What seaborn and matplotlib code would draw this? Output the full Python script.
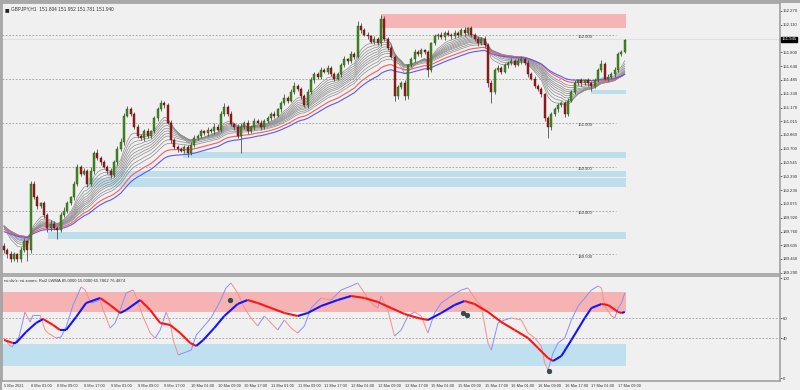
import numpy as np
import pandas as pd
import matplotlib
matplotlib.use('Agg')
import matplotlib.pyplot as plt
import seaborn as sns
from matplotlib.collections import LineCollection
from matplotlib.patches import Rectangle

sns.set_style('white')
plt.rcParams['font.family'] = ['Liberation Sans Narrow', 'Liberation Sans', 'DejaVu Sans']

# ---- price data (H1 closes) ----
first_open = 149.60
closes = [
    149.55, 149.50, 149.45, 149.50, 149.45, 149.55, 149.65, 149.55, 150.30, 150.15,
    150.05, 150.08, 149.95, 149.80, 149.85, 149.80, 149.78, 149.95, 150.00, 150.08,
    150.15, 150.30, 150.50, 150.42, 150.45, 150.30, 150.45, 150.65, 150.60, 150.55,
    150.50, 150.45, 150.40, 150.55, 150.70, 150.78, 151.08, 151.15, 151.10, 150.95,
    150.85, 150.82, 150.90, 150.85, 150.90, 151.05, 151.15, 151.22, 151.20, 151.00,
    150.80, 150.72, 150.70, 150.68, 150.72, 150.65, 150.75, 150.82, 150.85, 150.90,
    150.88, 150.92, 150.90, 150.95, 150.92, 151.10, 151.18, 151.10, 150.98, 150.95,
    150.85, 150.95, 151.00, 150.90, 150.95, 151.02, 151.00, 150.95, 151.02, 151.05,
    151.10, 151.08, 151.15, 151.22, 151.28, 151.25, 151.35, 151.42, 151.38, 151.30,
    151.20, 151.35, 151.48, 151.55, 151.52, 151.60, 151.58, 151.62, 151.55, 151.50,
    151.55, 151.65, 151.72, 151.70, 151.78, 151.75, 152.10, 152.05, 152.00, 151.98,
    151.92, 151.95, 151.90, 152.18, 151.95, 151.85, 151.75, 151.30, 151.40, 151.45,
    151.30, 151.65, 151.72, 151.80, 151.78, 151.82, 151.80, 151.60, 151.90, 151.98,
    152.00, 151.97, 152.02, 152.00, 151.98, 152.02, 152.00, 152.05, 152.02, 152.07,
    152.00, 151.95, 151.90, 151.95, 151.88, 151.45, 151.35, 151.60, 151.62, 151.58,
    151.65, 151.68, 151.70, 151.66, 151.70, 151.72, 151.68, 151.55, 151.50, 151.42,
    151.38, 151.32, 151.05, 150.95, 151.10, 151.15, 151.20, 151.22, 151.10, 151.25,
    151.35, 151.45, 151.48, 151.45, 151.48, 151.45, 151.42, 151.48, 151.60, 151.67,
    151.50, 151.52, 151.55, 151.60, 151.78, 151.80, 151.94,
]
# wick lengths in pips above / below the body
wick_up = [
    3, 2, 4, 3, 2, 3, 4, 2, 3, 4, 3, 2, 3, 2, 4, 3, 2, 3, 4, 3,
    2, 4, 3, 2, 3, 2, 4, 3, 5, 2, 3, 2, 3, 2, 3, 4, 3, 4, 3, 2,
    3, 2, 3, 4, 2, 3, 3, 4, 3, 2, 3, 2, 3, 2, 3, 2, 3, 4, 2, 3,
    2, 3, 2, 4, 3, 3, 4, 2, 3, 2, 3, 4, 2, 3, 2, 3, 2, 3, 2, 3,
    2, 3, 2, 3, 4, 2, 3, 4, 2, 3, 2, 3, 4, 3, 2, 3, 2, 3, 2, 3,
    2, 3, 4, 2, 3, 2, 5, 3, 2, 3, 2, 3, 2, 4, 3, 2, 3, 2, 3, 2,
    3, 2, 3, 4, 2, 3, 2, 3, 2, 3, 2, 3, 2, 3, 2, 3, 2, 3, 4, 2,
    3, 2, 3, 2, 3, 2, 3, 2, 3, 2, 3, 2, 3, 2, 3, 4, 2, 3, 2, 3,
    2, 3, 2, 3, 2, 3, 2, 3, 2, 3, 2, 3, 2, 3, 2, 3, 2, 3, 2, 4,
    2, 3, 2, 3, 2, 2, 1,
]
wick_dn = [
    3, 4, 3, 2, 4, 3, 2, 12, 3, 2, 3, 2, 4, 5, 3, 2, 10, 3, 2, 3,
    2, 3, 2, 3, 2, 3, 2, 3, 2, 3, 2, 3, 3, 2, 3, 2, 3, 2, 3, 2,
    3, 2, 3, 2, 3, 2, 3, 2, 3, 2, 3, 2, 3, 2, 3, 4, 2, 3, 2, 3,
    2, 3, 2, 3, 2, 3, 2, 3, 2, 3, 3, 20, 2, 3, 2, 3, 2, 3, 2, 3,
    2, 3, 2, 3, 2, 3, 2, 3, 2, 3, 2, 3, 2, 3, 2, 3, 2, 3, 2, 3,
    2, 3, 2, 3, 2, 3, 2, 3, 2, 3, 2, 3, 2, 3, 2, 3, 2, 5, 3, 2,
    4, 3, 2, 3, 2, 3, 2, 8, 3, 2, 3, 2, 3, 2, 3, 2, 3, 2, 3, 2,
    3, 2, 3, 2, 3, 4, 13, 3, 2, 3, 2, 3, 2, 3, 2, 3, 2, 3, 2, 3,
    2, 3, 3, 12, 3, 2, 3, 2, 4, 3, 2, 3, 2, 3, 2, 3, 6, 3, 2, 3,
    2, 3, 2, 3, 2, 2, 1,
]

# moving averages: period and value at first bar
gray_periods = [8, 10, 12, 14, 16, 18, 20, 22, 25, 28]
gray_seeds = [149.88, 149.88, 149.87, 149.87, 149.86, 149.86, 149.85, 149.85, 149.84, 149.83]
red_period, red_seed = 34, 149.80
blue_period, blue_seed = 40, 149.77

# horizontal zones (bar start, price low, price high)
price_red_zone = (113.1, 152.077, 152.236)
price_blue_zones = [(53.7, 150.598, 150.666), (31.2, 150.38, 150.45),
                    (24.6, 150.27, 150.37), (13.2, 149.676, 149.756),
                    (175.8, 151.33, 151.37)]
round_levels = [152.0, 151.5, 151.0, 150.5, 150.0, 149.5]
level_labels = ['152.000', '', '151.000', '150.500', '150.000', '149.500']

# oscillator lines (bar, value)
thick_x = [0, 2.7, 3.6, 6.6, 9.6, 11.7, 14.7, 16.8, 18.6, 21.6, 24.6, 28.8, 31.8, 34.8,
           36.6, 40.8, 43.8, 46.8, 49.8, 52.8, 55.8, 57.6, 59.7, 63, 66, 70, 73, 76,
           80, 84, 88, 91, 95, 100, 104, 108, 112, 116, 120, 124, 127, 131, 135, 138,
           141, 145, 149, 153, 157, 160, 163, 164.5, 167, 170, 174, 176, 179, 181,
           184, 185, 186]
thick_y = [38, 35, 35, 46, 55, 59, 53, 48, 48, 61, 75, 80, 73, 65,
           68, 78, 68, 55, 53, 45, 35, 32, 38, 50, 62, 74, 78, 75,
           70, 65, 62, 65, 72, 78, 82, 80, 76, 70, 64, 60, 58, 65, 73, 77,
           74, 66, 56, 48, 40, 30, 20, 17, 22, 38, 60, 70, 74, 73,
           66, 65, 66]
thin_x = [0, 1.5, 2.4, 4.5, 6.3, 7.8, 8.7, 10.8, 12.3, 13.2, 15.6, 17.1, 18.6, 20.7,
          23.1, 24.3, 26.1, 28.8, 29.7, 31.8, 33.3, 34.8, 36.6, 38.7, 39.6, 41.7,
          43.8, 45.3, 46.8, 48.6, 49.8, 50.7, 52.2, 54.6, 56.1, 57.6, 59.7, 62,
          64.5, 66.5, 68, 70, 72, 74, 76, 78, 80, 82, 84, 86, 88, 90, 92, 95, 98,
          101, 104, 106, 108, 110, 112, 113, 115, 117, 119, 121, 123, 125, 127,
          129, 131, 134, 137, 139, 141, 143, 145, 146, 148, 150, 152, 155, 157,
          159, 161, 162, 163, 164.5, 166, 168, 170, 172, 174, 176, 178, 179, 180,
          182, 183, 184, 185, 186]
thin_y = [40, 33, 31, 41, 66, 56, 63, 63, 48, 45, 40, 41, 51, 73,
          91, 88, 75, 78, 68, 50, 55, 68, 85, 88, 81, 61,
          45, 40, 48, 66, 55, 38, 23, 26, 28, 43, 51, 60,
          75, 90, 95, 85, 70, 60, 52, 62, 55, 48, 58, 50, 45, 52, 70, 80, 78,
          88, 92, 95, 85, 75, 70, 82, 68, 42, 48, 62, 66, 62, 45,
          65, 75, 82, 88, 90, 80, 72, 35, 28, 55, 58, 60, 58, 45,
          40, 32, 15, 8, 25, 35, 40, 58, 72, 80, 88, 92, 90, 72,
          62, 60, 70, 75, 85]
div_x = [67.8, 137.4, 138.6, 163.2]
div_y = [78, 65, 63, 7]

time_labels = ['5 Mar 2021', '8 Mar 01:00', '8 Mar 09:00', '8 Mar 17:00', '9 Mar 01:00',
               '9 Mar 09:00', '9 Mar 17:00', '10 Mar 01:00', '10 Mar 09:00', '10 Mar 17:00',
               '11 Mar 01:00', '11 Mar 09:00', '11 Mar 17:00', '12 Mar 01:00', '12 Mar 09:00',
               '12 Mar 17:00', '15 Mar 01:00', '15 Mar 09:00', '15 Mar 17:00', '16 Mar 01:00',
               '16 Mar 09:00', '16 Mar 17:00', '17 Mar 01:00', '17 Mar 09:00']
price_ticks = [152.270, 152.110, 151.800, 151.640, 151.485, 151.330, 151.170, 151.015,
               150.860, 150.700, 150.545, 150.390, 150.230, 150.075, 149.920, 149.760,
               149.605, 149.450, 149.290]
last_price = 151.945

# ---- build frame ----
n = len(closes)
df = pd.DataFrame({'bar': np.arange(n), 'close': closes})
df['open'] = [first_open] + closes[:-1]
df['high'] = df[['open', 'close']].max(axis=1) + np.array(wick_up) / 100
df['low'] = df[['open', 'close']].min(axis=1) - np.array(wick_dn) / 100


def ema(values, period, seed):
    a = 2.0 / (period + 1)
    out, e = [], seed
    for v in values:
        e = e + a * (v - e)
        out.append(e)
    return out


BG = '#f0f0f0'
TXT = '#333333'
FS = 3.1
FS_TIME = 2.8
fig = plt.figure(figsize=(8, 3.9), dpi=100, facecolor=BG)
W, H = 800, 390
# window frame (top and left edges)
fig.patches.append(Rectangle((0, 1 - 3 / H), 1, 3 / H, transform=fig.transFigure,
                             color='#a8a8a8', lw=0, zorder=0))
fig.patches.append(Rectangle((0, 0), 2 / W, 1, transform=fig.transFigure,
                             color='#a8a8a8', lw=0, zorder=0))
ax = fig.add_axes([2 / W, 1 - 274 / H, 778 / W, 271 / H], facecolor=BG)
ax2 = fig.add_axes([2 / W, 1 - 381 / H, 778 / W, 105 / H], facecolor=BG)
xmin, xmax = -0.6, 232.5
zone_end = 186.5
spine_c = '#a0a0a0'

# zones
r0, rl, rh = price_red_zone
ax.add_patch(Rectangle((r0, rl), zone_end - r0, rh - rl, color='#f5b5b5', lw=0, zorder=0))
for b0, lo, hi in price_blue_zones:
    ax.add_patch(Rectangle((b0, lo), zone_end - b0, hi - lo, color='#bddfec', lw=0, zorder=0))

# round levels
for lv, lab in zip(round_levels, level_labels):
    ax.hlines(lv, xmin, 183.5, colors='#9a9a9a', linestyles=(0, (2, 2)), lw=0.6, zorder=1)
    if lab:
        ax.text(174, lv - 0.025, lab, fontsize=FS, color=TXT, ha='center', va='center', zorder=1)
ax.axhline(last_price, color='#dcdcdc', lw=0.6, zorder=1)

# moving averages
for p, s in zip(gray_periods, gray_seeds):
    sns.lineplot(x=df['bar'], y=ema(closes, p, s), ax=ax, color='#8c8c8c', lw=0.5, zorder=2)
sns.lineplot(x=df['bar'], y=ema(closes, red_period, red_seed), ax=ax, color='#ff5a5a', lw=0.8, zorder=3)
sns.lineplot(x=df['bar'], y=ema(closes, blue_period, blue_seed), ax=ax, color='#5a5aff', lw=0.8, zorder=3)

# candles
up = df['close'] >= df['open']
ax.vlines(df['bar'], df['low'], df['high'], color='#505050', lw=0.6, zorder=4)
ax.bar(df['bar'][up], (df['close'] - df['open'])[up], bottom=df['open'][up], width=0.6,
       color='#3f8a1e', edgecolor='#2a5a14', lw=0.3, zorder=5)
ax.bar(df['bar'][~up], (df['open'] - df['close'])[~up], bottom=df['close'][~up], width=0.6,
       color='#a01818', edgecolor='#601010', lw=0.3, zorder=5)

ax.set_xlim(xmin, xmax)
ax.set_ylim(149.278, 152.36)
ax.yaxis.tick_right()
ax.set_yticks(price_ticks)
ax.set_yticklabels([f'{t:.3f}' for t in price_ticks])
ax.tick_params(axis='y', labelsize=FS, length=1.5, width=0.5, pad=0.5, colors=TXT)
ax.set_xticks([])
ax.set_xlabel('')
ax.set_ylabel('')
for s in ax.spines.values():
    s.set_color(spine_c)
    s.set_linewidth(1.2)
ax.text(1.002, last_price, f'{last_price:.3f}', transform=ax.get_yaxis_transform(),
        fontsize=FS, color='white', va='center', ha='left',
        bbox=dict(boxstyle='square,pad=0.15', fc='black', ec='black'))
ax.text(0.003, 0.985, '\u25a0', transform=ax.transAxes, fontsize=3.5, va='top', ha='left',
        color='#222222', family='DejaVu Sans')
ax.text(0.011, 0.988, 'GBPJPY,H1  151.804 151.952 151.781 151.940', transform=ax.transAxes,
        fontsize=FS + 0.3, va='top', ha='left', color=TXT)

# ---- oscillator ----
ax2.add_patch(Rectangle((xmin, 66), zone_end - xmin, 20, color='#f5b3b3', lw=0, zorder=0))
ax2.add_patch(Rectangle((xmin, 12), zone_end - xmin, 22, color='#bfe0ee', lw=0, zorder=0))
for lv in (60, 40):
    ax2.axhline(lv, color='#9a9a9a', ls=(0, (2, 2)), lw=0.6, zorder=1)


def slope_lines(xs, ys, c_up, c_dn, lw, z):
    pts = np.column_stack([xs, ys])
    segs = np.stack([pts[:-1], pts[1:]], axis=1)
    cols = [c_up if b >= a else c_dn for a, b in zip(ys[:-1], ys[1:])]
    ax2.add_collection(LineCollection(segs, colors=cols, linewidths=lw, zorder=z))


slope_lines(thin_x, thin_y, '#8c8cff', '#ff8c8c', 0.7, 2)
slope_lines(thick_x, thick_y, '#1414ff', '#ff1414', 1.5, 3)
sns.scatterplot(x=div_x, y=div_y, ax=ax2, color='#2f4f4f', s=12, edgecolor='#1c3030', lw=0.3, zorder=4)

ax2.set_xlim(xmin, xmax)
ax2.set_ylim(-3, 102)
ax2.yaxis.tick_right()
ax2.set_yticks([100, 60, 40, 0])
ax2.set_yticklabels(['100', '60', '40', '0'])
ax2.tick_params(axis='y', labelsize=FS, length=1.5, width=0.5, pad=0.5, colors=TXT)
ax2.set_xticks(np.arange(len(time_labels)) * 8)
ax2.set_xticklabels(time_labels, ha='left')
ax2.tick_params(axis='x', labelsize=FS_TIME, length=2, width=0.5, pad=0.5, colors=TXT)
for s in ax2.spines.values():
    s.set_color(spine_c)
    s.set_linewidth(1.2)
ax2.text(0.002, 0.975, "rsi div'z: rsi zones: Rsi2 LWMA 85.0000 15.0000 65.7862 76.4874",
         transform=ax2.transAxes, fontsize=FS, va='top', ha='left', color=TXT)

fig.savefig('out.png', dpi=100, facecolor=BG)
